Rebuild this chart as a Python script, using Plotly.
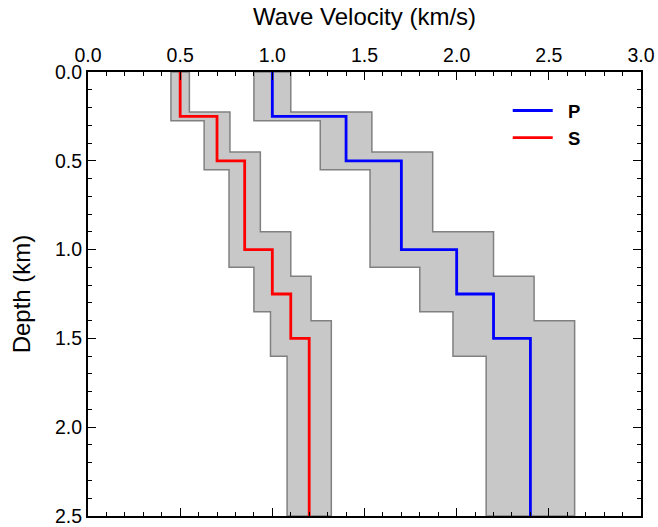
import plotly.graph_objects as go

# Layer interfaces (km) and velocities (km/s)
layer_tops = [0.0, 0.25, 0.5, 1.0, 1.25, 1.5]
max_depth = 2.5
vp = [1.0, 1.4, 1.7, 2.0, 2.2, 2.4]
vs = [0.5, 0.7, 0.85, 1.0, 1.1, 1.2]

# Uncertainty band bounds
vp_min = [0.9, 1.26, 1.53, 1.8, 1.98, 2.16]
vp_max = [1.1, 1.54, 1.87, 2.2, 2.42, 2.64]
vs_min = [0.45, 0.63, 0.765, 0.9, 0.99, 1.08]
vs_max = [0.55, 0.77, 0.935, 1.1, 1.21, 1.32]
# interface depths used by the band edges (shallow edge for max, deep for min)
depth_upper = [0.225, 0.45, 0.9, 1.15, 1.4]
depth_lower = [0.275, 0.55, 1.1, 1.35, 1.6]


def step_profile(vals, tops, bottom):
    xs, ys = [], []
    for i, v in enumerate(vals):
        top = tops[i]
        bot = tops[i + 1] if i + 1 < len(tops) else bottom
        xs += [v, v]
        ys += [top, bot]
    return xs, ys


def band(vmin, vmax, dup, dlo, bottom):
    xs, ys = step_profile(vmax, [0.0] + dup, bottom)
    lx, ly = step_profile(vmin, [0.0] + dlo, bottom)
    xs += lx[::-1]
    ys += ly[::-1]
    xs.append(xs[0])
    ys.append(ys[0])
    return xs, ys


fig = go.Figure()

for vmin, vmax in [(vs_min, vs_max), (vp_min, vp_max)]:
    bx, by = band(vmin, vmax, depth_upper, depth_lower, max_depth)
    fig.add_trace(go.Scatter(x=bx, y=by, mode="lines", fill="toself",
                             fillcolor="#c8c8c8",
                             line=dict(color="#808080", width=1.5),
                             showlegend=False, hoverinfo="skip"))

px_, py_ = step_profile(vp, layer_tops, max_depth)
sx_, sy_ = step_profile(vs, layer_tops, max_depth)
fig.add_trace(go.Scatter(x=px_, y=py_, mode="lines", name="\u00a0\u00a0P",
                         line=dict(color="#0000ff", width=2.8)))
fig.add_trace(go.Scatter(x=sx_, y=sy_, mode="lines", name="\u00a0\u00a0S",
                         line=dict(color="#ff0000", width=2.8)))

FONT = "Liberation Sans, Arial, Helvetica, sans-serif"
axis_common = dict(
    showgrid=False, zeroline=False, showline=True, linecolor="black",
    linewidth=2, mirror="allticks", ticks="inside", ticklen=8,
    tickcolor="black", tickwidth=1, automargin=False,
    tickfont=dict(family=FONT, size=19.5, color="black"),
    minor=dict(ticks="inside", ticklen=4, dtick=0.1, tickcolor="black", tickwidth=1),
)

fig.update_layout(
    width=658, height=527,
    margin=dict(l=88, r=17, t=72, b=11),
    plot_bgcolor="white", paper_bgcolor="white",
    font=dict(family=FONT, color="black"),
    xaxis=dict(range=[0, 3.0], side="top", dtick=0.5, tickformat=".1f",
               title=dict(text="Wave Velocity (km/s)", font=dict(size=24), standoff=12),
               **axis_common),
    yaxis=dict(range=[2.5, 0], dtick=0.5, tickformat=".1f",
               title=dict(text="Depth (km)", font=dict(size=24), standoff=18),
               **axis_common),
    legend=dict(x=0.759, y=0.955, xanchor="left", yanchor="top",
                bgcolor="rgba(0,0,0,0)", borderwidth=0,
                font=dict(family=FONT, size=18.5, weight="bold", color="black"),
                itemwidth=40, tracegroupgap=0),
)

fig.write_html("out.html", config={"displayModeBar": False},
               post_script="document.body.style.margin='0';document.body.style.padding='0';")
